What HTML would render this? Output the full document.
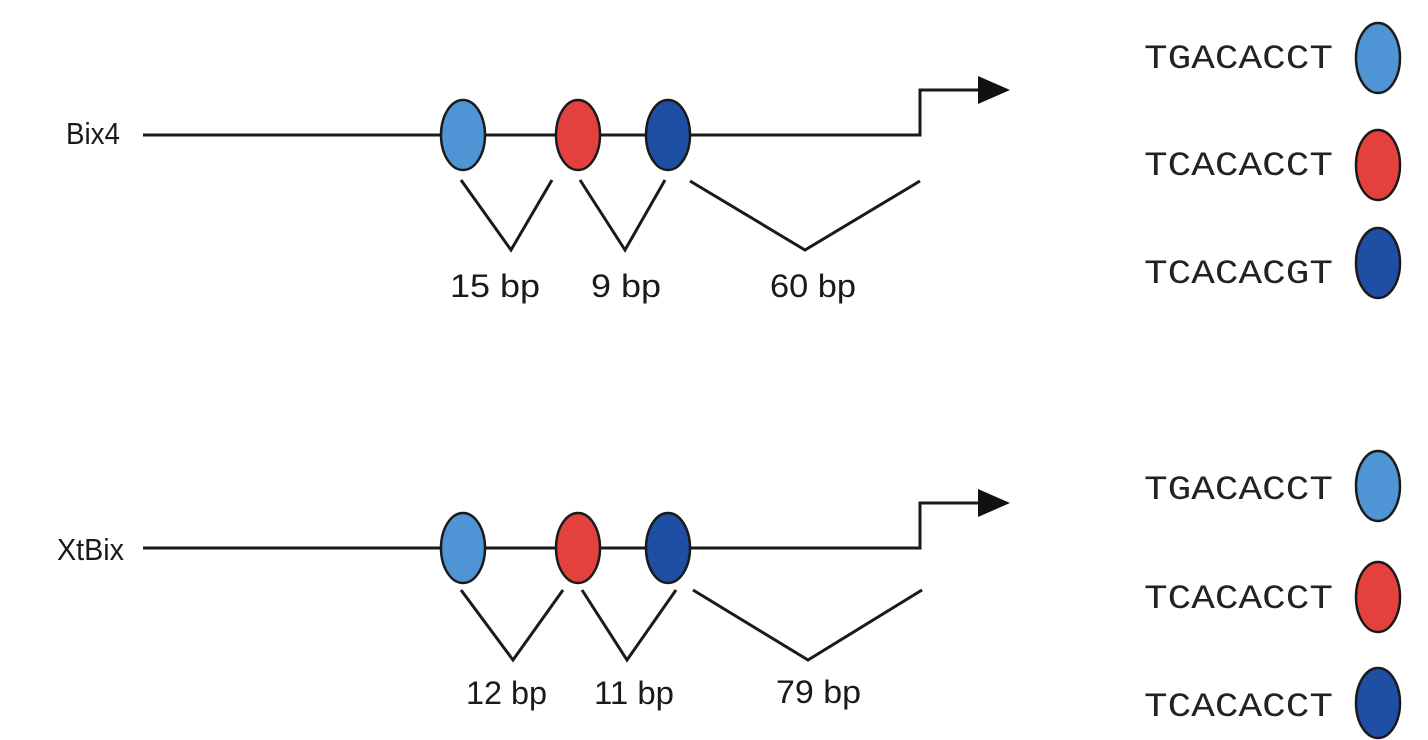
<!DOCTYPE html>
<html><head><style>body{margin:0;background:#fff}svg{display:block}</style></head>
<body>
<svg width="1428" height="740" viewBox="0 0 1428 740" xmlns="http://www.w3.org/2000/svg">
<g font-family="Liberation Sans, sans-serif" font-size="31" fill="#1a1a1a">
<text x="66" y="144" textLength="54" lengthAdjust="spacingAndGlyphs">Bix4</text>
<text x="57" y="560" textLength="67" lengthAdjust="spacingAndGlyphs">XtBix</text>
</g>
<g stroke="#1a1a1a" stroke-width="3" fill="none">
<polyline points="143,135 920,135 920,90 980,90"/>
<polyline points="143,548 920,548 920,503 980,503"/>
<polyline points="461,180 511,250 552,180"/>
<polyline points="580,180 625,250 665,180"/>
<polyline points="690,181 805,250 920,181"/>
<polyline points="461,590 513,660 563,590"/>
<polyline points="582,590 627,660 676,590"/>
<polyline points="693,590 808,660 922,590"/>
</g>
<g fill="#111">
<polygon points="978,76 1010,90 978,104"/>
<polygon points="978,489 1010,503 978,517"/>
</g>
<g stroke="#1a1a1a" stroke-width="2.5">
<ellipse cx="463" cy="135" rx="22" ry="35" fill="#4f95d6"/>
<ellipse cx="578" cy="135" rx="22" ry="35" fill="#e2413e"/>
<ellipse cx="668" cy="135" rx="22" ry="35" fill="#1f4ea5"/>
<ellipse cx="463" cy="548" rx="22" ry="35" fill="#4f95d6"/>
<ellipse cx="578" cy="548" rx="22" ry="35" fill="#e2413e"/>
<ellipse cx="668" cy="548" rx="22" ry="35" fill="#1f4ea5"/>
<ellipse cx="1378" cy="58" rx="22" ry="35" fill="#4f95d6"/>
<ellipse cx="1378" cy="165" rx="22" ry="35" fill="#e2413e"/>
<ellipse cx="1378" cy="263" rx="22" ry="35" fill="#1f4ea5"/>
<ellipse cx="1378" cy="486" rx="22" ry="35" fill="#4f95d6"/>
<ellipse cx="1378" cy="597" rx="22" ry="35" fill="#e2413e"/>
<ellipse cx="1378" cy="703" rx="22" ry="35" fill="#1f4ea5"/>
</g>
<g font-family="Liberation Sans, sans-serif" font-size="32" fill="#1a1a1a">
<text x="450" y="297" textLength="90" lengthAdjust="spacingAndGlyphs">15 bp</text>
<text x="591" y="297" textLength="70" lengthAdjust="spacingAndGlyphs">9 bp</text>
<text x="770" y="297" textLength="86" lengthAdjust="spacingAndGlyphs">60 bp</text>
<text x="466" y="704" textLength="81" lengthAdjust="spacingAndGlyphs">12 bp</text>
<text x="594" y="704" textLength="80" lengthAdjust="spacingAndGlyphs">11 bp</text>
<text x="776" y="703" textLength="85" lengthAdjust="spacingAndGlyphs">79 bp</text>
</g>
<g font-family="Liberation Mono, Courier New, monospace" font-size="34" fill="#222" text-anchor="end">
<text x="1333" y="68" textLength="189" lengthAdjust="spacingAndGlyphs">TGACACCT</text>
<text x="1333" y="175" textLength="189" lengthAdjust="spacingAndGlyphs">TCACACCT</text>
<text x="1333" y="283" textLength="189" lengthAdjust="spacingAndGlyphs">TCACACGT</text>
<text x="1333" y="499" textLength="189" lengthAdjust="spacingAndGlyphs">TGACACCT</text>
<text x="1333" y="608" textLength="189" lengthAdjust="spacingAndGlyphs">TCACACCT</text>
<text x="1333" y="716" textLength="189" lengthAdjust="spacingAndGlyphs">TCACACCT</text>
</g>
</svg>
</body></html>
